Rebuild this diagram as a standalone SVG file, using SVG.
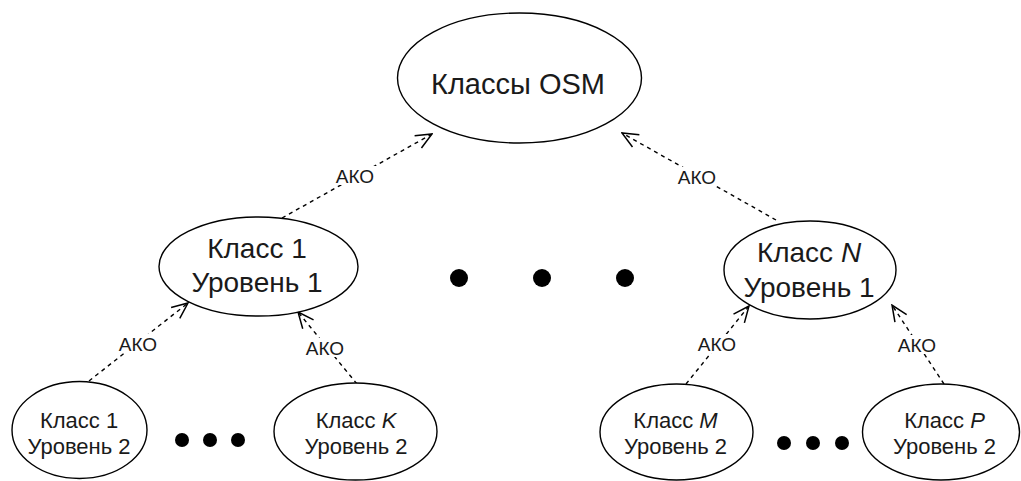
<svg xmlns="http://www.w3.org/2000/svg" width="1021" height="481" viewBox="0 0 1021 481">
<style>
.node ellipse{fill:#fff;stroke:#000;stroke-width:1.4}
.t{font-family:"Liberation Sans",Arial,sans-serif;fill:#1a1a1a;text-anchor:middle}
.t29{font-size:29px}
.t28{font-size:28px}
.t22{font-size:22px}
.lbl{font-family:"Liberation Sans",Arial,sans-serif;font-size:19px;fill:#1a1a1a;text-anchor:middle}
.edge{fill:none;stroke:#000;stroke-width:1.4;stroke-dasharray:4 4;marker-end:url(#arr)}
.lblbg{fill:#fff}
.dot{fill:#000}
</style>
<defs>
<marker id="arr" viewBox="0 0 18 18" refX="17" refY="9" markerWidth="18" markerHeight="18" markerUnits="userSpaceOnUse" orient="auto">
<path d="M1,2 L17,9 L1,16" fill="none" stroke="#000" stroke-width="1.5"/>
</marker>
</defs>
<g id="connectors">
<path class="edge" d="M282,218 L432,134"/>
<rect class="lblbg" x="334" y="166" width="43" height="19"/>
<text class="lbl" x="355" y="183">АКО</text>
<path class="edge" d="M776,220 L622,133"/>
<rect class="lblbg" x="676" y="167" width="43" height="19"/>
<text class="lbl" x="697" y="184">АКО</text>
<path class="edge" d="M89,381 L188,303"/>
<rect class="lblbg" x="117" y="334" width="43" height="19"/>
<text class="lbl" x="138" y="351">АКО</text>
<path class="edge" d="M357,384 L298,312"/>
<rect class="lblbg" x="304" y="338" width="43" height="19"/>
<text class="lbl" x="325" y="355">АКО</text>
<path class="edge" d="M686,384 L749,306"/>
<rect class="lblbg" x="696" y="334" width="43" height="19"/>
<text class="lbl" x="717" y="351">АКО</text>
<path class="edge" d="M944,384 L892,305"/>
<rect class="lblbg" x="896" y="335" width="43" height="19"/>
<text class="lbl" x="917" y="352">АКО</text>
</g>
<g id="osm" class="node">
<ellipse cx="519.5" cy="78" rx="122" ry="65"/>
<text class="t t29" x="518" y="94">Классы OSM</text>
</g>
<g id="c1l1" class="node">
<ellipse cx="258.5" cy="266.5" rx="99.5" ry="49.5"/>
<text class="t t28" x="257" y="258">Класс 1</text>
<text class="t t28" x="257" y="292">Уровень 1</text>
</g>
<g id="cNl1" class="node">
<ellipse cx="810" cy="270" rx="86" ry="49"/>
<text class="t t28" x="809" y="262">Класс <tspan font-style="italic">N</tspan></text>
<text class="t t28" x="809" y="297">Уровень 1</text>
</g>
<g id="c1l2" class="node">
<ellipse cx="79.5" cy="430" rx="67.5" ry="48.5"/>
<text class="t t22" x="79" y="428">Класс 1</text>
<text class="t t22" x="79" y="454">Уровень 2</text>
</g>
<g id="cKl2" class="node">
<ellipse cx="355.5" cy="431.5" rx="81.5" ry="48.5"/>
<text class="t t22" x="356" y="428">Класс <tspan font-style="italic">K</tspan></text>
<text class="t t22" x="356" y="454">Уровень 2</text>
</g>
<g id="cMl2" class="node">
<ellipse cx="676.5" cy="432" rx="76.5" ry="48"/>
<text class="t t22" x="675.5" y="428">Класс <tspan font-style="italic">M</tspan></text>
<text class="t t22" x="675.5" y="454">Уровень 2</text>
</g>
<g id="cPl2" class="node">
<ellipse cx="941" cy="432" rx="78.5" ry="48"/>
<text class="t t22" x="944.5" y="428">Класс <tspan font-style="italic">P</tspan></text>
<text class="t t22" x="944.5" y="454">Уровень 2</text>
</g>
<g id="dots">
<circle class="dot" cx="459" cy="278" r="9"/>
<circle class="dot" cx="542" cy="278" r="9"/>
<circle class="dot" cx="625" cy="278" r="9"/>
<circle class="dot" cx="182" cy="440" r="7"/>
<circle class="dot" cx="210" cy="440" r="7"/>
<circle class="dot" cx="238" cy="440" r="7"/>
<circle class="dot" cx="784" cy="443" r="7"/>
<circle class="dot" cx="813" cy="443" r="7"/>
<circle class="dot" cx="842" cy="443" r="7"/>
</g>
</svg>
